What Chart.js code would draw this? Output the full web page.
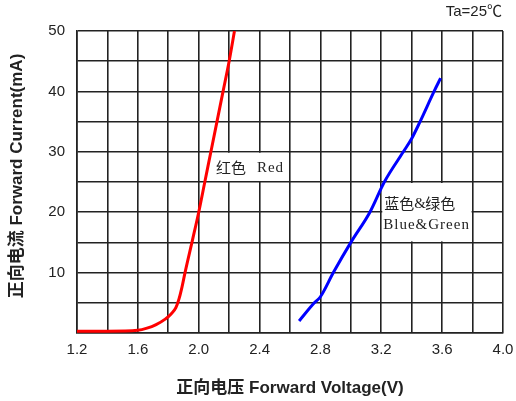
<!DOCTYPE html>
<html>
<head>
<meta charset="utf-8">
<script src="https://cdn.jsdelivr.net/npm/chart.js@4/dist/chart.umd.min.js"></script>
<style>
  html, body { margin: 0; padding: 0; background: #fff; }
  #wrap { width: 516px; height: 401px; }
</style>
</head>
<body>
<div id="wrap"><canvas id="ivChart" width="516" height="401"></canvas></div>
<script>
// Forward voltage (V) vs forward current (mA), Ta = 25 °C
const redVoltage   = [1.20, 1.40, 1.60, 1.66, 1.72, 1.78, 1.82, 1.85, 1.87, 1.89, 1.91, 1.96, 2.00, 2.04, 2.08, 2.12, 2.16, 2.20, 2.235];
const redCurrent   = [0.3,  0.3,  0.45, 0.8,  1.4,  2.3,  3.2,  4.2,  5.6,  7.6,  10,   15.5, 20,   25,   30,   35,   40,   45,   50];
const blueVoltage  = [2.66, 2.76, 2.80, 2.885, 3.00, 3.125, 3.22, 3.345, 3.40, 3.455, 3.547, 3.59];
const blueCurrent  = [2.0,  5.0,  6.0,  10,    15,   20,    25,   30,    32.2, 35,    40,    42.2];

const xTickLabels = ['1.2', '1.6', '2.0', '2.4', '2.8', '3.2', '3.6', '4.0'];
const yTickLabels = ['10', '20', '30', '40', '50'];

const toPoints = (xs, ys) => xs.map((x, i) => ({ x: x, y: ys[i] }));

const TEXT = '#222';
const GRID = '#222';
const CJK_FONT = "15px 'Noto Sans CJK SC', sans-serif";
const LATIN_FONT = "15px 'Liberation Serif', serif";

// Axis titles, ambient note and the two series captions
const annotations = {
  id: 'annotations',
  beforeDatasetsDraw(chart) {
    const { ctx, scales: { x, y } } = chart;
    ctx.save();
    ctx.fillStyle = '#fff';
    // caption boxes sit over the grid, under the curves
    const rx0 = x.getPixelForValue(2.08), rx1 = x.getPixelForValue(2.585);
    const ry0 = y.getPixelForValue(30) + 1, ry1 = y.getPixelForValue(25) - 1;
    ctx.fillRect(rx0, ry0, rx1 - rx0, ry1 - ry0);
    const bx0 = x.getPixelForValue(3.2) + 1, bx1 = x.getPixelForValue(3.8) - 1;
    const by0 = y.getPixelForValue(25) + 1, by1 = y.getPixelForValue(15) - 1;
    ctx.fillRect(bx0, by0, bx1 - bx0, by1 - by0);

    ctx.fillStyle = TEXT;
    ctx.textBaseline = 'middle';
    ctx.textAlign = 'left';
    const ryMid = (ry0 + ry1) / 2;
    ctx.font = CJK_FONT;
    ctx.fillText('红色', rx0 + 5, ryMid);
    ctx.fillText('蓝色', bx0 + 2, by0 + 20);
    ctx.fillText('绿色', bx0 + 43, by0 + 20);
    ctx.font = LATIN_FONT;
    if ('letterSpacing' in ctx) ctx.letterSpacing = '1px';
    ctx.fillText('Red', rx0 + 46, ryMid + 1);
    ctx.fillText('&', bx0 + 32, by0 + 21);
    ctx.fillText('Blue&Green', bx0 + 1, by0 + 42);
    ctx.restore();
  },
  afterDraw(chart) {
    const { ctx, chartArea: a } = chart;
    ctx.save();
    ctx.fillStyle = TEXT;
    ctx.textBaseline = 'middle';

    ctx.font = "15px 'Liberation Sans', 'Noto Sans CJK SC', sans-serif";
    ctx.textAlign = 'right';
    ctx.fillText('Ta=25℃', a.right - 1, 12);

    ctx.font = "bold 17px 'Liberation Sans', 'Noto Sans CJK SC', sans-serif";
    ctx.textAlign = 'center';
    ctx.fillText('正向电压 Forward Voltage(V)', (a.left + a.right) / 2, 388);

    ctx.translate(17, 176);
    ctx.rotate(-Math.PI / 2);
    ctx.fillText('正向电流 Forward Current(mA)', 0, 0);
    ctx.restore();
  }
};

new Chart(document.getElementById('ivChart'), {
  type: 'scatter',
  data: {
    datasets: [
      {
        label: '红色 Red',
        data: toPoints(redVoltage, redCurrent),
        showLine: true,
        borderColor: '#ff0000',
        borderWidth: 3,
        pointRadius: 0,
        cubicInterpolationMode: 'monotone',
        fill: false
      },
      {
        label: '蓝色&绿色 Blue&Green',
        data: toPoints(blueVoltage, blueCurrent),
        showLine: true,
        borderColor: '#0000ff',
        borderWidth: 3,
        pointRadius: 0,
        cubicInterpolationMode: 'monotone',
        fill: false
      }
    ]
  },
  options: {
    responsive: false,
    animation: false,
    devicePixelRatio: 1,
    layout: { padding: { left: 0, top: 31, right: 13, bottom: 0 } },
    plugins: {
      legend: { display: false },
      tooltip: { enabled: false }
    },
    scales: {
      x: {
        type: 'linear',
        min: 1.2,
        max: 4.0,
        afterFit(scale) {
          scale.height = 68;
          scale.paddingLeft = 0;
          scale.paddingRight = 0;
        },
        border: { display: true, color: GRID, width: 1.6 },
        grid: { color: GRID, lineWidth: 1.6, drawTicks: false },
        ticks: {
          stepSize: 0.2,
          padding: 8,
          maxRotation: 0,
          autoSkip: false,
          color: TEXT,
          font: { family: "'Liberation Sans', sans-serif", size: 15 },
          callback: (v) => {
            const s = Number(v).toFixed(1);
            return xTickLabels.includes(s) ? s : '';
          }
        }
      },
      y: {
        type: 'linear',
        min: 0,
        max: 50,
        afterFit(scale) {
          scale.width = 77;
          scale.paddingTop = 0;
          scale.paddingBottom = 0;
        },
        border: { display: true, color: GRID, width: 1.6 },
        grid: { color: GRID, lineWidth: 1.6, drawTicks: false },
        ticks: {
          stepSize: 5,
          padding: 12,
          autoSkip: false,
          color: TEXT,
          font: { family: "'Liberation Sans', sans-serif", size: 15 },
          callback: (v) => {
            const s = String(Math.round(v));
            return yTickLabels.includes(s) ? s : '';
          }
        }
      }
    }
  },
  plugins: [annotations]
});
</script>
</body>
</html>
